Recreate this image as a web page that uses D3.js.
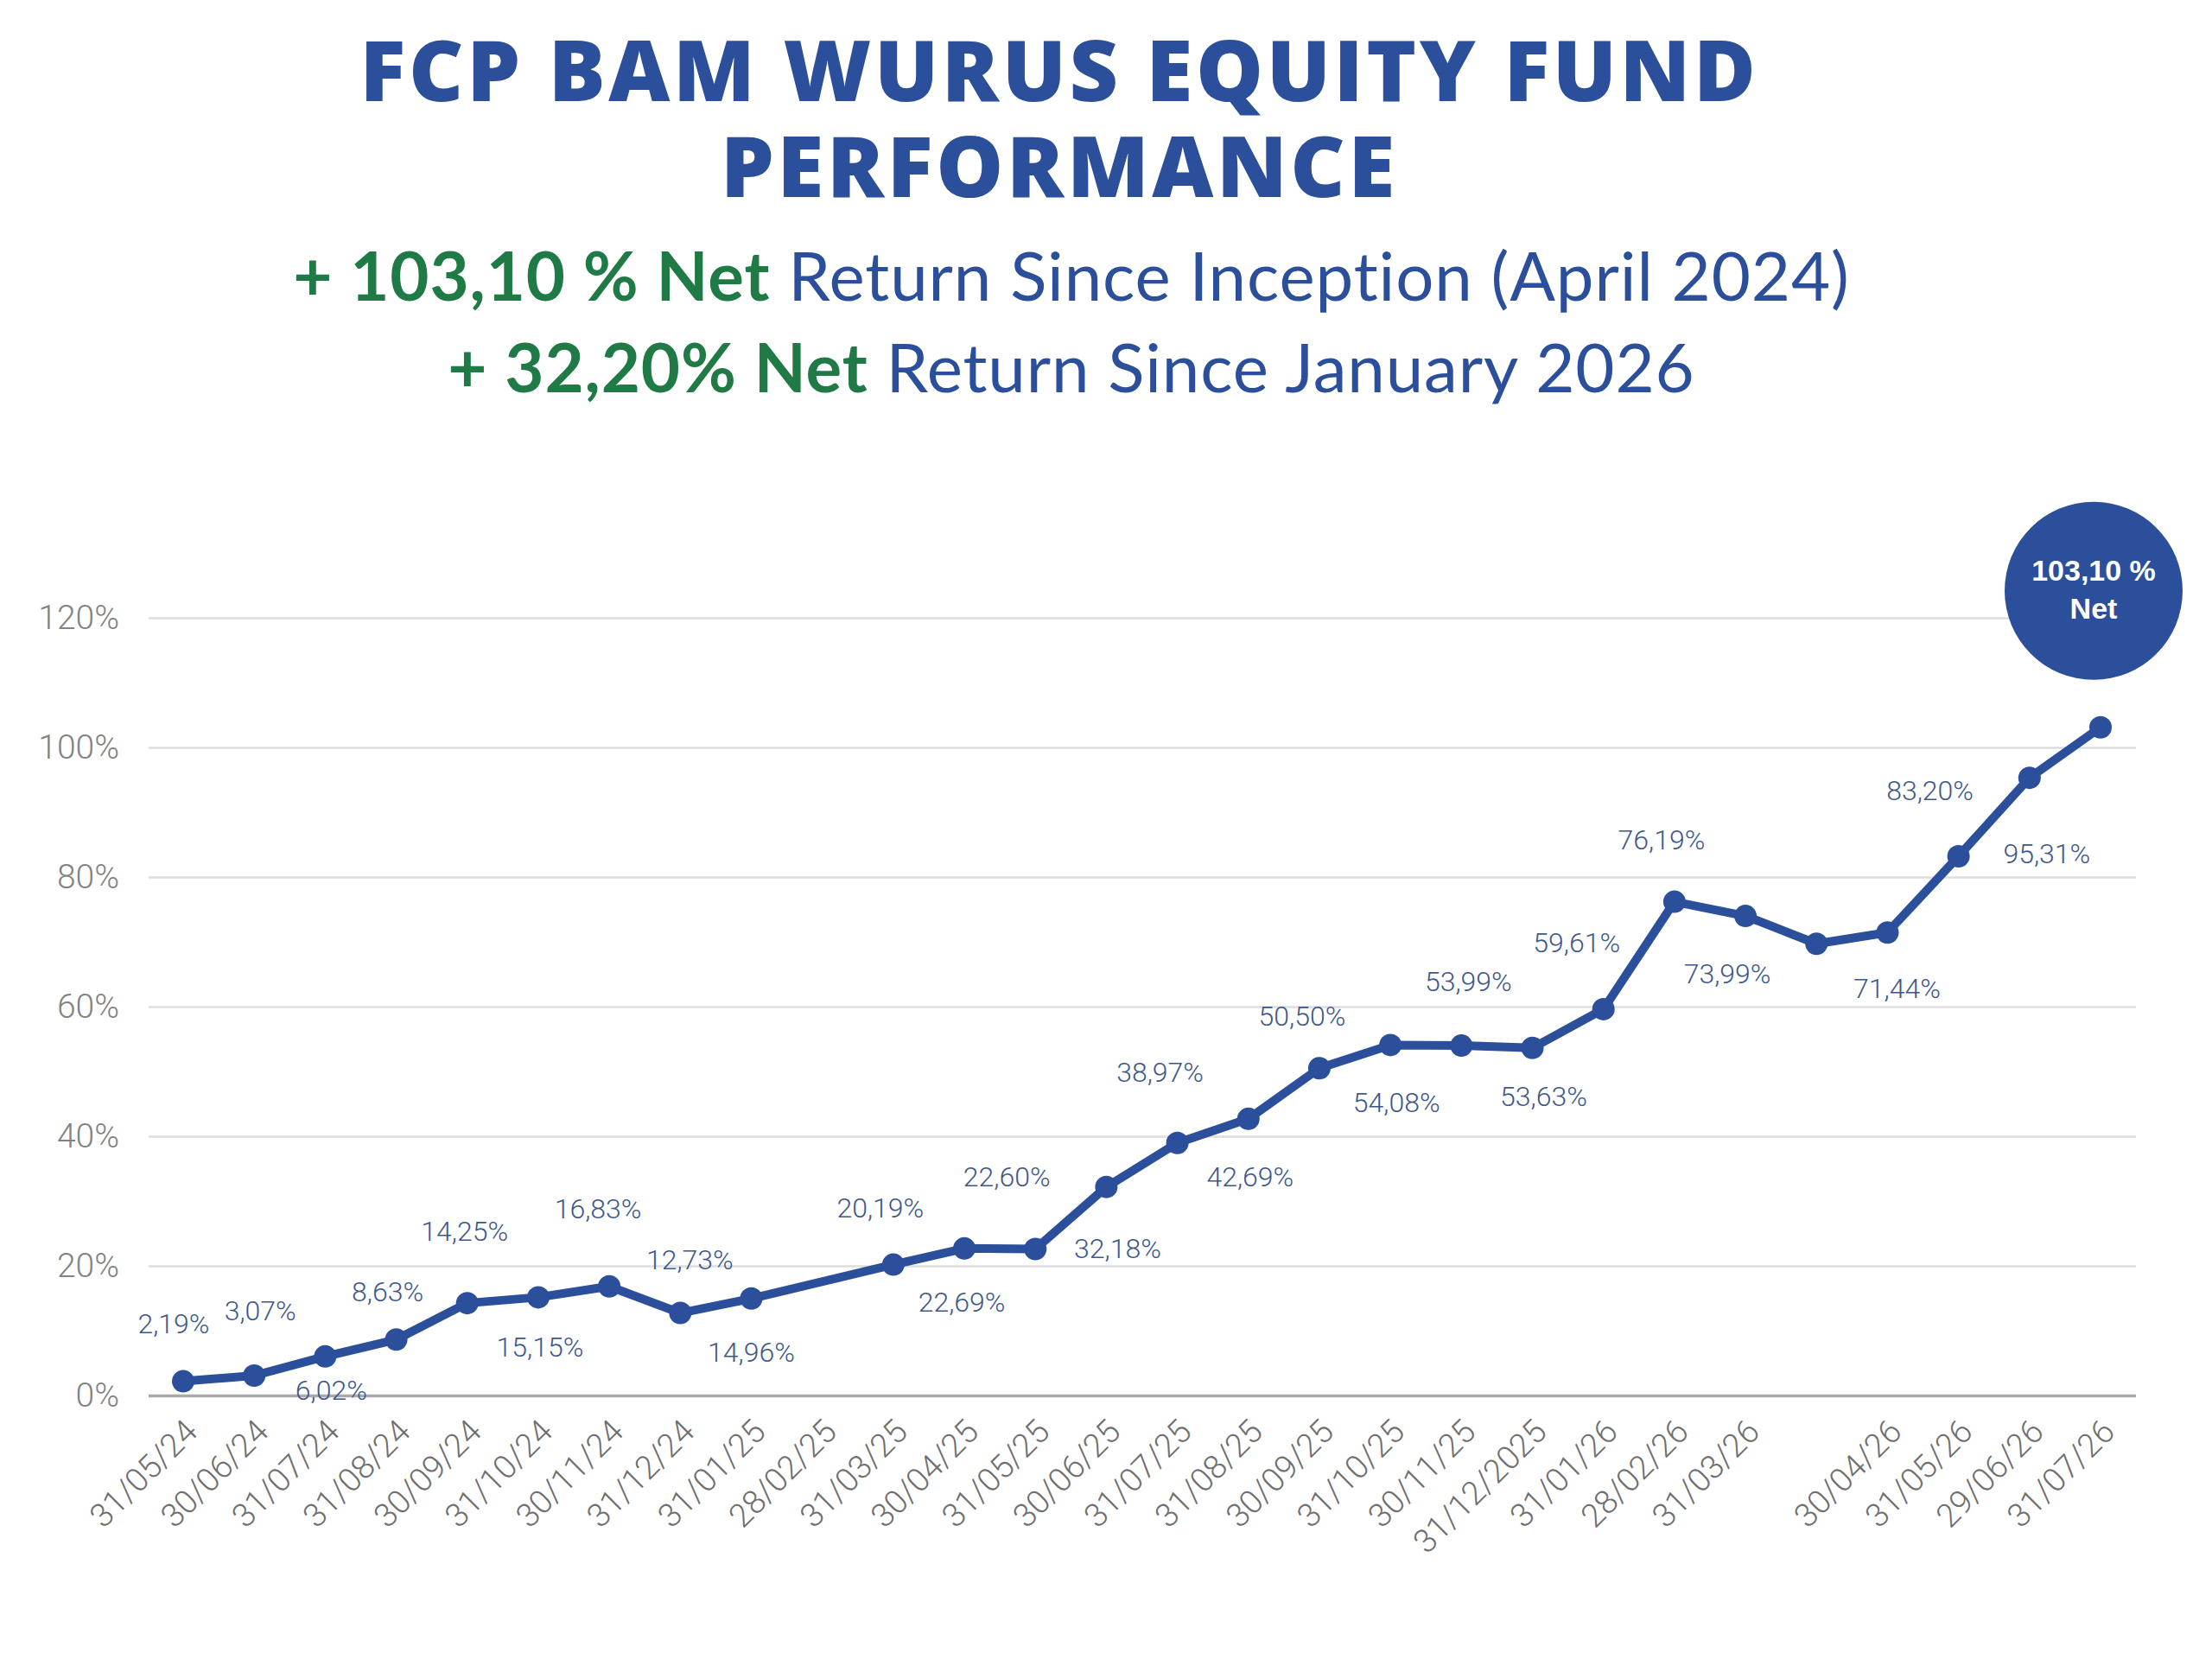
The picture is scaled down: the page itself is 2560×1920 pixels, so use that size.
<!DOCTYPE html>
<html>
<head>
<meta charset="utf-8">
<script src="https://cdn.jsdelivr.net/npm/d3@7"></script>
<style>
  html, body { margin: 0; padding: 0; background: #fff; }
  svg { display: block; }
</style>
</head>
<body>
<div id="chart"></div>
<script>
// month-end dates, one slot has no label in the source
const dates = ['31/05/24', '30/06/24', '31/07/24', '31/08/24', '30/09/24', '31/10/24', '30/11/24',
  '31/12/24', '31/01/25', '28/02/25', '31/03/25', '30/04/25', '31/05/25', '30/06/25', '31/07/25',
  '31/08/25', '30/09/25', '31/10/25', '30/11/25', '31/12/2025', '31/01/26', '28/02/26', '31/03/26',
  '', '30/04/26', '31/05/26', '29/06/26', '31/07/26']
// cumulative net return (%), null = no reading
const returns = [2.19, 3.07, 6.02, 8.63, 14.25, 15.15, 16.83, 12.73, 14.96, null, 20.19, 22.69, 22.60,
  32.18, 38.97, 42.69, 50.50, 54.08, 53.99, 53.63, 59.61, 76.19, 73.99, 69.7, 71.44, 83.20, 95.31, 103.10]
const yTicks = [0, 20, 40, 60, 80, 100, 120]

const title = ['FCP BAM WURUS EQUITY FUND', 'PERFORMANCE']
const subtitles = [
  {strong: '+ 103,10 % Net', rest: ' Return Since Inception (April 2024)'},
  {strong: '+ 32,20% Net', rest: ' Return Since January 2026'}
]
const bubbleText = ['103,10 %', 'Net']

const W = 2560, H = 1920
const blue = '#2b4f9a', green = '#1f7a45', labelBlue = '#3d5889'

// hand placed value labels, [dx, dy] from the point, null = no label
const labelOffset = [[-11, -67], [7, -75], [7, 39], [-10, -56], [-3, -84], [2, 57], [-13, -90],
  [11, -62], [0, 62], null, [-15, -66], [-3, 62], [-33, -84], [13, 71], [-20, -82], [2, 67],
  [-20, -61], [7, 66], [8, -75], [13, 56], [-31, -77], [-15, -72], [-21, 66], null, [11, 64],
  [-33, -77], [20, 87], null]

const svg = d3.select('#chart').append('svg')
  .attr('width', W)
  .attr('height', H)

// titles
const t = svg.append('g')
  .attr('text-anchor', 'middle')
title.forEach((s, i) => {
  t.append('text')
    .attr('x', 1226)
    .attr('y', 117 + i * 111)
    .attr('font-family', '"Open Sans", sans-serif')
    .attr('font-weight', 800)
    .attr('font-size', 98)
    .attr('letter-spacing', 3.6)
    .attr('fill', blue)
    .text(s)
})
subtitles.forEach((s, i) => {
  const txt = t.append('text')
    .attr('x', 1240)
    .attr('y', 348 + i * 106)
    .attr('font-family', 'Lato, sans-serif')
    .attr('font-size', 78)
    .attr('letter-spacing', 0.9)
  txt.append('tspan')
    .attr('font-weight', 700)
    .attr('fill', green)
    .text(s.strong)
  txt.append('tspan')
    .attr('font-weight', 400)
    .attr('fill', blue)
    .text(s.rest)
})

// scales
const x = d3.scalePoint()
  .domain(d3.range(dates.length))
  .range([212, 2431])
const y = d3.scaleLinear()
  .domain([0, 120])
  .range([1615, 715])

const gridLeft = 172, gridRight = 2472

// y axis with gridlines
const yAxis = d3.axisLeft(y)
  .tickValues(yTicks)
  .tickSize(-(gridRight - gridLeft))
  .tickPadding(34)
  .tickFormat(d => d + '%')
const gy = svg.append('g')
  .attr('transform', `translate(${gridLeft},0)`)
  .call(yAxis)
gy.select('.domain').remove()
gy.selectAll('.tick line')
  .attr('stroke', d => d === 0 ? '#a9a9a9' : '#dedede')
  .attr('stroke-width', d => d === 0 ? 3.5 : 2.5)
gy.selectAll('.tick text')
  .attr('font-family', 'Roboto, sans-serif')
  .attr('font-weight', 300)
  .attr('font-size', 39)
  .attr('fill', '#828282')

// x axis, rotated labels
const xAxis = d3.axisBottom(x)
  .tickSize(0)
  .tickFormat(i => dates[i])
const gx = svg.append('g')
  .attr('transform', `translate(0,${y(0)})`)
  .call(xAxis)
gx.select('.domain').remove()
gx.selectAll('.tick text')
  .attr('font-family', 'Roboto, sans-serif')
  .attr('font-weight', 300)
  .attr('font-size', 38)
  .attr('fill', '#6f6f6f')
  .attr('text-anchor', 'end')
  .attr('dy', null)
  .attr('transform', 'translate(16,42) rotate(-45)')

// series
const pts = returns.map((v, i) => ({i, v, off: labelOffset[i]})).filter(d => d.v !== null)

const line = d3.line()
  .x(d => x(d.i))
  .y(d => y(d.v))
svg.append('path')
  .datum(pts)
  .attr('d', line)
  .attr('fill', 'none')
  .attr('stroke', blue)
  .attr('stroke-width', 10)
  .attr('stroke-linejoin', 'round')

svg.append('g')
  .selectAll('circle')
  .data(pts)
  .join('circle')
  .attr('cx', d => x(d.i))
  .attr('cy', d => y(d.v))
  .attr('r', 13)
  .attr('fill', blue)

const fmt = d3.format('.2f')
svg.append('g')
  .selectAll('text')
  .data(pts.filter(d => d.off))
  .join('text')
  .attr('x', d => x(d.i) + d.off[0])
  .attr('y', d => y(d.v) + d.off[1])
  .attr('dy', '0.36em')
  .attr('text-anchor', 'middle')
  .attr('font-family', 'Roboto, sans-serif')
  .attr('font-weight', 300)
  .attr('font-size', 32)
  .attr('fill', labelBlue)
  .text(d => fmt(d.v).replace('.', ',') + '%')

// end bubble
const last = pts[pts.length - 1]
const bx = x(last.i) - 8, by = y(last.v) - 158
svg.append('circle')
  .attr('cx', bx)
  .attr('cy', by)
  .attr('r', 103)
  .attr('fill', blue)
bubbleText.forEach((s, i) => {
  svg.append('text')
    .attr('x', bx)
    .attr('y', by - 12 + i * 44)
    .attr('text-anchor', 'middle')
    .attr('font-family', '"Liberation Sans", Arial, sans-serif')
    .attr('font-weight', 700)
    .attr('font-size', 34)
    .attr('fill', '#fff')
    .text(s)
})
</script>
</body>
</html>
